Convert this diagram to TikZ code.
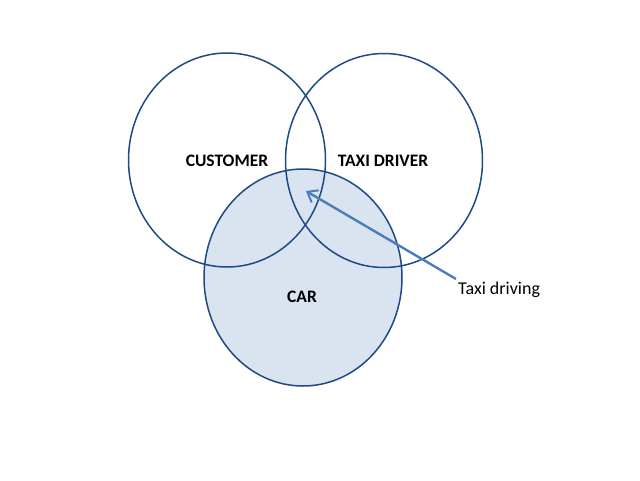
\documentclass[tikz,border=0pt]{standalone}
\usepackage{fontspec}
\setmainfont{Carlito}
\usetikzlibrary{arrows.meta}
\definecolor{ringblue}{HTML}{1F4A85}
\definecolor{carfill}{HTML}{DAE3F0}
\definecolor{arrowblue}{HTML}{4A7EBB}
\begin{document}
\begin{tikzpicture}[x=1pt,y=-1pt,
  ring/.style={draw=ringblue,line width=1.5pt},
  setlabel/.style={font=\fontsize{17.5}{20}\selectfont\bfseries,text=black},
  calllabel/.style={font=\fontsize{18}{21}\selectfont,text=black,anchor=west,inner sep=0pt},
  callarrow/.style={draw=arrowblue,line width=2.4pt,-{Straight Barb[length=9pt,width=14pt,line width=2pt]}}]
\useasboundingbox (0,0) rectangle (640,480);
\fill[carfill] (303,277.5) ellipse [x radius=99, y radius=108.5];
\draw[ring] (227,160) ellipse [x radius=98.5, y radius=107];
\draw[ring] (384,160.5) ellipse [x radius=98.5, y radius=107];
\draw[ring] (303,277.5) ellipse [x radius=99, y radius=108.5];
\node[setlabel] (customer) at (227,161) {CUSTOMER};
\node[setlabel] (driver) at (383,161) {TAXI DRIVER};
\node[setlabel] (car) at (302,297) {CAR};
\node[calllabel] (taxi) at (458,290) {Taxi driving};
\coordinate (tip) at (306,191);
\coordinate (start) at (456,279);
\draw[callarrow] (start) -- (tip);
\end{tikzpicture}
\end{document}
